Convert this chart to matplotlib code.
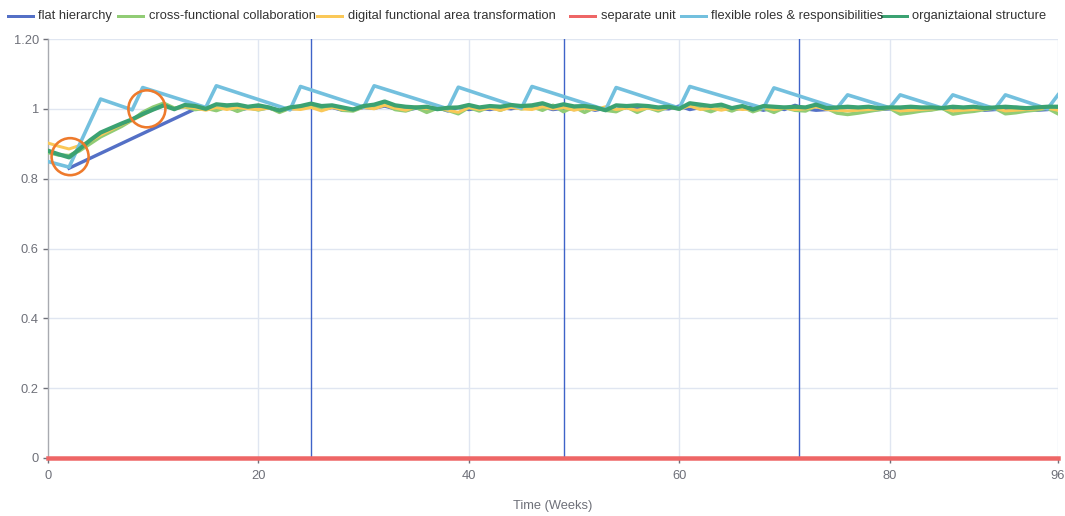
import numpy as np
import matplotlib
matplotlib.use("Agg")
import matplotlib.pyplot as plt
from matplotlib.lines import Line2D

plt.rcParams['font.family'] = ['Liberation Sans', 'DejaVu Sans']

# ---------------------------------------------------------------- data
weeks = list(range(0, 97))

flat_weeks = [2, 14] + list(range(15, 97))
flat_hierarchy = [0.830, 1.000,
                  1.002, 0.998, 1.004, 0.996, 1.002, 1.000, 1.002, 0.996, 1.000, 1.002,
                  1.006, 0.998, 1.004, 0.996, 0.998, 1.004, 1.002, 1.008, 1.000, 0.996,
                  1.002, 0.998, 1.004, 0.994, 1.004, 0.998, 1.002, 0.998, 1.004, 1.000,
                  1.006, 1.002, 1.006, 0.998, 1.002, 0.998, 1.004, 0.996, 1.002, 0.998,
                  1.004, 1.000, 1.008, 1.002, 1.000, 1.008, 0.998, 1.004, 0.996, 1.002,
                  0.998, 1.002, 1.004, 0.996, 1.004, 0.998, 1.010, 1.000, 0.996, 0.998,
                  1.000, 1.004, 1.002, 0.996, 0.998, 1.000, 1.002, 1.004, 0.996, 0.998,
                  1.004, 1.002, 1.000, 1.006, 0.996, 0.998, 1.000, 1.004, 1.002, 0.996,
                  0.998, 1.002]

cross_functional = [0.875, 0.868, 0.866, 0.880, 0.900, 0.920, 0.935, 0.950, 0.968, 0.990,
                    1.005, 1.016, 1.002, 1.006, 0.998, 1.002, 0.995, 1.006, 0.993, 1.004,
                    0.997, 1.004, 0.990, 1.002, 1.006, 1.010, 0.998, 1.008, 0.996, 0.994,
                    1.006, 1.004, 1.014, 0.998, 0.994, 1.004, 0.990, 1.002, 0.996, 0.986,
                    1.004, 0.994, 1.006, 0.996, 1.008, 1.000, 1.006, 0.996, 1.010, 0.992,
                    1.006, 0.990, 1.004, 0.996, 0.992, 1.006, 0.990, 1.004, 0.994, 1.006,
                    1.000, 1.010, 1.002, 0.992, 1.004, 0.994, 1.006, 0.992, 1.002, 0.990,
                    1.004, 0.996, 0.994, 1.008, 1.002, 0.988, 0.984, 0.988, 0.993, 0.998,
                    1.002, 0.985, 0.989, 0.994, 0.997, 1.002, 0.985, 0.990, 0.993, 0.998,
                    1.002, 0.986, 0.989, 0.994, 0.997, 1.002, 0.986]

digital_transformation = [0.902, 0.893, 0.885, 0.895, 0.908, 0.925, 0.940, 0.955, 0.967, 0.982,
                          0.998, 1.008, 1.000, 1.006, 1.002, 0.996, 1.004, 0.998, 1.004, 1.000,
                          0.998, 1.002, 0.996, 1.000, 0.998, 1.004, 0.994, 1.004, 0.998, 1.000,
                          1.004, 1.000, 1.010, 1.002, 0.996, 1.006, 1.000, 1.004, 0.996, 0.990,
                          1.004, 0.998, 1.002, 0.996, 1.004, 1.000, 0.998, 1.006, 1.000, 1.004,
                          0.996, 1.002, 0.998, 1.006, 0.998, 1.002, 0.996, 1.002, 0.998, 1.004,
                          1.000, 1.008, 0.998, 1.002, 0.996, 1.002, 0.998, 1.000, 1.004, 0.998,
                          1.002, 0.998, 1.000, 1.006, 0.998, 0.996, 0.994, 0.996, 0.998, 1.000,
                          1.002, 0.994, 0.996, 0.998, 1.000, 1.002, 0.994, 0.996, 0.998, 1.000,
                          1.002, 0.994, 0.996, 0.998, 1.000, 1.002, 0.996]

separate_unit = [0.0] * 97

flex_weeks = [0, 2, 5, 8, 9, 15, 16, 23, 24, 30, 31, 38, 39, 45, 46, 53, 54, 60, 61,
              68, 69, 75, 76, 80, 81, 85, 86, 90, 91, 95, 96]
flexible_roles = [0.849, 0.833, 1.028, 0.997, 1.061, 1.004, 1.066, 0.997, 1.064, 1.005,
                  1.066, 1.000, 1.062, 1.002, 1.064, 0.997, 1.061, 1.002, 1.064, 1.002,
                  1.060, 1.002, 1.040, 1.003, 1.040, 1.002, 1.040, 1.000, 1.040, 1.000, 1.040]

org_structure = [0.880, 0.870, 0.861, 0.885, 0.910, 0.932, 0.945, 0.958, 0.970, 0.985,
                 0.998, 1.010, 0.999, 1.011, 1.008, 1.000, 1.013, 1.010, 1.012, 1.006,
                 1.010, 1.004, 0.995, 1.004, 1.008, 1.015, 1.008, 1.010, 1.004, 0.998,
                 1.008, 1.012, 1.021, 1.010, 1.006, 1.004, 1.006, 0.999, 1.003, 1.004,
                 1.011, 1.004, 1.008, 1.006, 1.011, 1.008, 1.010, 1.016, 1.006, 1.013,
                 1.007, 1.008, 1.004, 0.996, 1.010, 1.008, 1.010, 1.008, 1.004, 1.006,
                 1.000, 1.016, 1.012, 1.008, 1.012, 1.002, 1.008, 0.998, 1.008, 1.006,
                 1.004, 1.006, 1.004, 1.012, 1.002, 1.004, 1.006, 1.004, 1.006, 1.002,
                 1.004, 1.004, 1.006, 1.004, 1.004, 1.002, 1.006, 1.004, 1.006, 1.002,
                 1.004, 1.006, 1.004, 1.002, 1.004, 1.006, 1.006]

phase_marks = [25, 49, 71.4]
highlight_x = [2.1, 9.4]
highlight_y = [0.863, 1.0]

series_names = ["flat hierarchy", "cross-functional collaboration",
                "digital functional area transformation", "separate unit",
                "flexible roles & responsibilities", "organiztaional structure"]
colors = ["#5470C6", "#91CC75", "#FAC858", "#EE6666", "#73C0DE", "#3BA272"]

y_ticks = [0, 0.2, 0.4, 0.6, 0.8, 1.0, 1.2]
y_tick_labels = ["0", "0.2", "0.4", "0.6", "0.8", "1", "1.20"]
x_ticks = [0, 20, 40, 60, 80, 96]

# ---------------------------------------------------------------- figure
W, H = 1065, 516
fig = plt.figure(figsize=(W / 100, H / 100), dpi=100)
L, R, T, B = 48, 1058, 39, 458
ax = fig.add_axes([L / W, 1 - B / H, (R - L) / W, (B - T) / H])

axis_grey = "#6E7079"
grid_col = "#E0E6F1"
fs = 12.9 * 0.72  # font size in points

ax.set_xlim(0, 96)
ax.set_ylim(0, 1.2)

for y in y_ticks[1:]:
    ax.axhline(y, color=grid_col, lw=1, zorder=0)
for x in [20, 40, 60, 80, 96]:
    ax.axvline(x, color=grid_col, lw=1, zorder=0)

for x in phase_marks:
    ax.axvline(x, color="#3F63C8", lw=1.0, zorder=1)

px = 0.72  # points per pixel at 100 dpi
ax.plot(flat_weeks, flat_hierarchy, color=colors[0], lw=3.4 * px, zorder=3)
ax.plot(weeks, cross_functional, color=colors[1], lw=3.6 * px, zorder=3)
ax.plot(weeks, digital_transformation, color=colors[2], lw=3.0 * px, zorder=3)
ax.plot(weeks, separate_unit, color=colors[3], lw=4.5 * px, zorder=3, clip_on=False)
ax.plot(flex_weeks, flexible_roles, color=colors[4], lw=3.6 * px, zorder=4)
ax.plot(weeks, org_structure, color=colors[5], lw=4.2 * px, zorder=5)

ax.scatter(highlight_x, highlight_y, s=(37 * px) ** 2, facecolors="none",
           edgecolors="#EE7A2C", linewidths=2.6 * px, zorder=6)

for s in ["top", "right", "bottom"]:
    ax.spines[s].set_visible(False)
ax.spines["left"].set_color("#A8AAB0")
ax.spines["left"].set_linewidth(1)

ax.set_yticks(y_ticks)
ax.set_yticklabels(y_tick_labels)
ax.set_xticks(x_ticks)
ax.tick_params(axis="y", length=5 * px, width=1, color=axis_grey,
               labelsize=fs, labelcolor=axis_grey, pad=3)
ax.tick_params(axis="x", length=5 * px, width=1, color=axis_grey,
               labelsize=fs, labelcolor=axis_grey, pad=5)
ax.set_xlabel("Time (Weeks)", fontsize=fs, color=axis_grey, labelpad=13)

# legend row across the top
legend_items = [(8, 38), (118, 149), (317, 348), (570, 601), (681, 711), (882, 912)]
ly = 1 - 16 / H
for (hx, tx), name, c in zip(legend_items, series_names, colors):
    fig.add_artist(Line2D([hx / W, (hx + 25) / W], [ly, ly], color=c, lw=3 * px))
    fig.text(tx / W, ly, name, fontsize=fs, color="#333333",
             va="center", ha="left")

fig.savefig("out.png", dpi=100)
